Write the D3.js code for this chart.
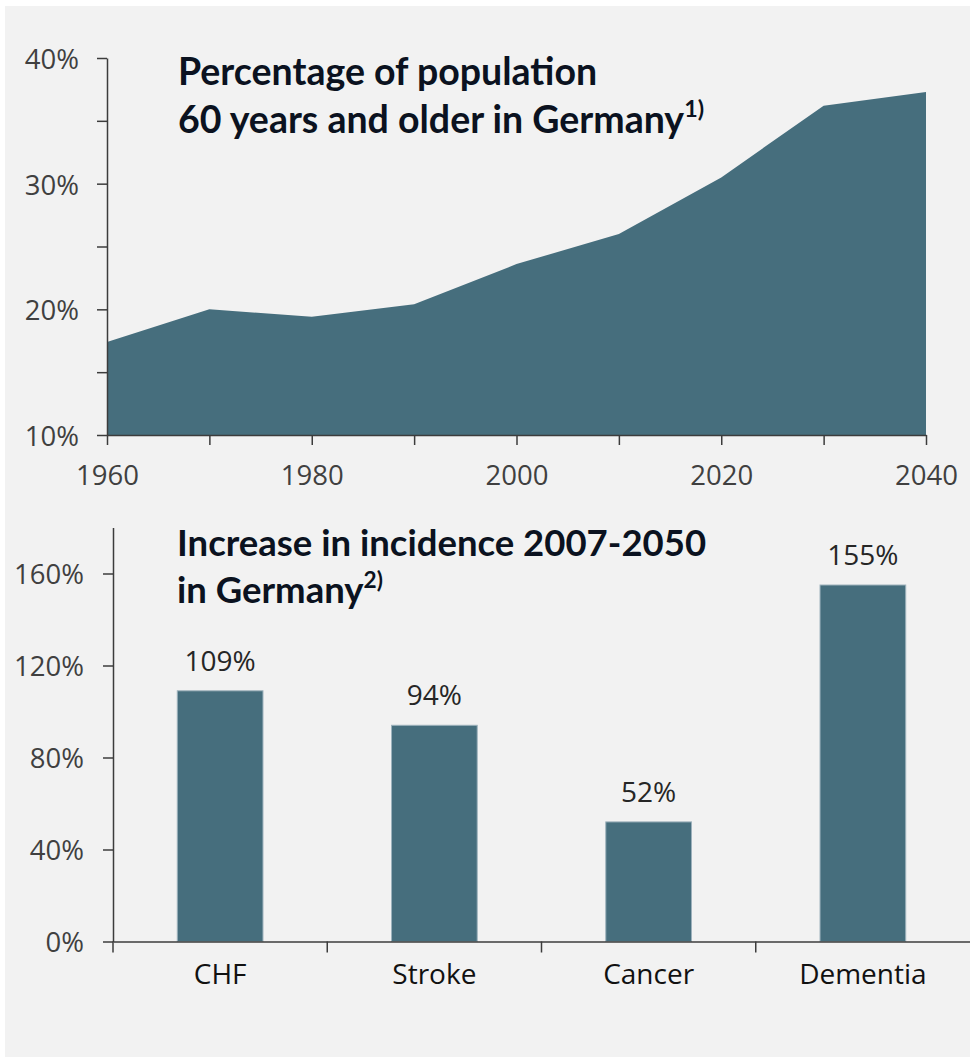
<!DOCTYPE html>
<html>
<head>
<meta charset="utf-8">
<script src="https://cdn.jsdelivr.net/npm/d3@7"></script>
<style>
  body { margin: 0; background: #fff; }
  svg { display: block; }
  .tick text { font-family: 'Open Sans', sans-serif; }
</style>
</head>
<body>
<script>
// top chart: share of population aged 60+
let years = [1960, 1970, 1980, 1990, 2000, 2010, 2020, 2030, 2040]
let share60 = [17.4, 20.0, 19.4, 20.4, 23.6, 26.0, 30.5, 36.2, 37.3]
let yearLabels = [1960, 1980, 2000, 2020, 2040]
let shareTicks = [10, 15, 20, 25, 30, 35, 40]
let shareLabels = [10, 20, 30, 40]

// bottom chart: increase in incidence 2007-2050
let diseases = ['CHF', 'Stroke', 'Cancer', 'Dementia']
let increase = [109, 94, 52, 155]
let increaseTicks = [0, 40, 80, 120, 160]

function init () {
  let width = 970
  let height = 1058
  let fill = '#466e7d'
  let axisColor = '#3c3c3c'
  let tickFont = 27.5

  let svg = d3.select('body')
    .append('svg')
    .attr('width', width)
    .attr('height', height)

  // grey slide background
  svg.append('rect')
    .attr('x', 5)
    .attr('y', 6)
    .attr('width', width - 5)
    .attr('height', height - 7)
    .attr('fill', '#f2f2f2')

  // ---------- area chart ----------
  let x = d3.scaleLinear().domain([1960, 2040]).range([107, 926])
  let y = d3.scaleLinear().domain([10, 40]).range([435, 58])

  let area = d3.area()
    .x(function (d, i) { return x(years[i]) })
    .y0(y(10))
    .y1(function (d) { return y(d) })

  svg.append('path')
    .datum(share60)
    .attr('d', area)
    .attr('fill', fill)

  let yAxis = svg.append('g')
    .attr('transform', 'translate(' + x(1960) + ',0)')
    .call(d3.axisLeft(y)
      .tickValues(shareTicks)
      .tickSize(10)
      .tickSizeOuter(0)
      .tickPadding(18)
      .tickFormat(function (d) { return shareLabels.includes(d) ? d + '%' : '' }))
  styleAxis(yAxis, axisColor)
  yAxis.selectAll('text').attr('font-size', tickFont).attr('fill', '#404040').attr('dy', '0.38em')

  let xAxis = svg.append('g')
    .attr('transform', 'translate(0,' + y(10) + ')')
    .call(d3.axisBottom(x)
      .tickValues(years)
      .tickSize(10)
      .tickSizeOuter(0)
      .tickFormat(function (d) { return yearLabels.includes(d) ? d : '' }))
  styleAxis(xAxis, axisColor)
  xAxis.selectAll('text').attr('font-size', tickFont).attr('fill', '#404040').attr('y', 50).attr('dy', 0)

  addTitle(svg, 178, 85, 48, 37.5, ['Percentage of population', '60 years and older in Germany'], '1)')

  // ---------- bar chart ----------
  let xb = d3.scaleBand()
    .domain(diseases)
    .range([113, 970])
    .paddingInner(0.6)
    .paddingOuter(0.3)
  let yb = d3.scaleLinear().domain([0, 180]).range([941.5, 527.5])

  svg.selectAll('.bar')
    .data(increase)
    .enter()
    .append('rect')
    .attr('class', 'bar')
    .attr('x', function (d, i) { return xb(diseases[i]) })
    .attr('y', function (d) { return yb(d) })
    .attr('width', xb.bandwidth())
    .attr('height', function (d) { return yb(0) - yb(d) })
    .attr('fill', fill)
    .attr('stroke', '#9db2bc')
    .attr('stroke-width', 1)

  svg.selectAll('.value')
    .data(increase)
    .enter()
    .append('text')
    .attr('class', 'value')
    .attr('x', function (d, i) { return xb(diseases[i]) + xb.bandwidth() / 2 })
    .attr('y', function (d) { return yb(d) - 20 })
    .attr('text-anchor', 'middle')
    .attr('font-family', 'Open Sans, sans-serif')
    .attr('font-size', 28)
    .attr('fill', '#262626')
    .text(function (d) { return d + '%' })

  let ybAxis = svg.append('g')
    .attr('transform', 'translate(' + xb.range()[0] + ',0)')
    .call(d3.axisLeft(yb)
      .tickValues(increaseTicks)
      .tickSize(10)
      .tickSizeOuter(0)
      .tickPadding(19)
      .tickFormat(function (d) { return d + '%' }))
  styleAxis(ybAxis, axisColor)
  ybAxis.selectAll('text').attr('font-size', tickFont).attr('fill', '#404040').attr('dy', '0.38em')

  // category axis: line, boundary ticks, centred labels
  let xbAxis = svg.append('g')
    .attr('transform', 'translate(0,' + yb(0) + ')')
    .call(d3.axisBottom(xb).tickSize(0).tickSizeOuter(0))
  styleAxis(xbAxis, axisColor)
  xbAxis.selectAll('text')
    .attr('y', 42)
    .attr('dy', 0)
    .attr('font-family', 'Lato, sans-serif')
    .attr('font-size', 28)
    .attr('fill', '#111')

  let gap = xb.step() * xb.paddingInner() / 2
  xbAxis.selectAll('.bound')
    .data(diseases)
    .enter()
    .append('line')
    .attr('class', 'bound')
    .attr('x1', function (d) { return xb(d) - gap })
    .attr('x2', function (d) { return xb(d) - gap })
    .attr('y1', 0)
    .attr('y2', 11)
    .attr('stroke', axisColor)
    .attr('stroke-width', 1.5)

  addTitle(svg, 177, 556, 47, 36.5, ['Increase in incidence 2007-2050', 'in Germany'], '2)')
}

function styleAxis (g, color) {
  g.select('.domain').attr('stroke', color).attr('stroke-width', 1.5)
  g.selectAll('.tick line').attr('stroke', color).attr('stroke-width', 1.5)
}

function addTitle (svg, x, y, lineGap, size, lines, note) {
  let t = svg.append('text')
    .attr('x', x)
    .attr('y', y)
    .attr('font-family', 'Lato, sans-serif')
    .attr('font-weight', 'bold')
    .attr('font-size', size)
    .attr('fill', '#0b1220')
  lines.forEach(function (line, i) {
    t.append('tspan')
      .attr('x', x)
      .attr('y', y + i * lineGap)
      .text(line)
  })
  t.append('tspan')
    .attr('font-size', size * 0.62)
    .attr('dy', -size * 0.42)
    .text(note)
}

init()
</script>
</body>
</html>
